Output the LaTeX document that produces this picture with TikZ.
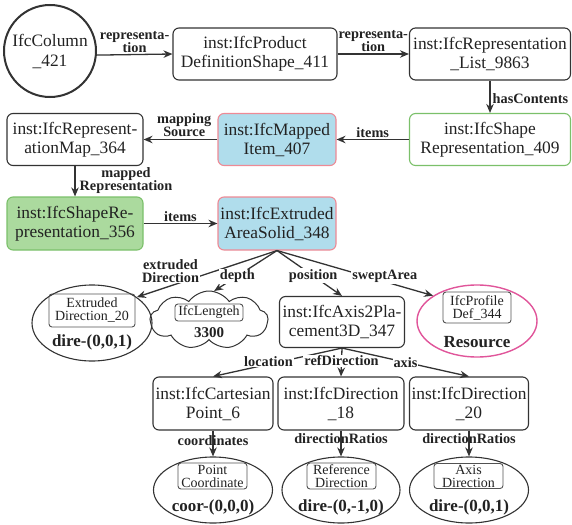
\documentclass[tikz,border=0pt]{standalone}
\usepackage{fontspec}
\setmainfont{Liberation Serif}
\usetikzlibrary{arrows.meta,shapes.geometric,shapes.symbols}
\definecolor{linec}{HTML}{333333}
\definecolor{textc}{HTML}{222222}
\definecolor{bluefill}{HTML}{B0DDEC}
\definecolor{pinkline}{HTML}{EE8A95}
\definecolor{greenfill}{HTML}{ABDA9E}
\definecolor{greenline}{HTML}{7BC06A}
\definecolor{magline}{HTML}{E0559A}

\begin{document}
\begin{tikzpicture}[x=1pt,y=-1pt,
  sz/.style 2 args={minimum width=#1,minimum height=#2},
  box/.style={rectangle,rounded corners=6pt,draw=linec,line width=1.1pt,
    align=center,inner sep=0pt,text=textc,font=\fontsize{17.4}{19}\selectfont},
  bluebox/.style={box,fill=bluefill,draw=pinkline},
  greenbox/.style={box,draw=greenline},
  greenfilled/.style={box,fill=greenfill,draw=greenline},
  valshape/.style={ellipse,draw=linec,line width=1.1pt,inner sep=0pt},
  tag/.style={rectangle,rounded corners=3pt,draw=linec!85,line width=0.9pt,
    align=center,inner sep=0pt,text=textc,font=\fontsize{14}{13}\selectfont},
  val/.style={inner sep=0pt,text=textc,font=\fontsize{17}{19}\selectfont\bfseries},
  arr/.style={draw=linec,line width=1.3pt,-{Stealth[length=9pt,width=7.5pt]}},
  elab/.style={align=center,inner sep=1pt,text=textc,
    font=\fontsize{14.3}{13}\selectfont\bfseries},
  wlab/.style={elab,fill=white}
]
\useasboundingbox (0,0) rectangle (572,524);

% ---- nodes ----
\node[circle,draw=linec,line width=2pt,minimum size=92pt,inner sep=0pt,
  align=center,text=textc,font=\fontsize{17.4}{20}\selectfont] (col) at (50,51) {IfcColumn\\\_421};
\node[box,sz={164pt}{52pt}] (pds) at (255,54) {inst:IfcProduct\\DefinitionShape\_411};
\node[box,sz={161pt}{52pt}] (rl) at (490,54) {inst:IfcRepresentation\\\_List\_9863};
\node[greenbox,sz={161pt}{52pt}] (sr409) at (490,139.5) {inst:IfcShape\\Representation\_409};
\node[bluebox,sz={118pt}{52pt}] (mi) at (277,139.5) {inst:IfcMapped\\Item\_407};
\node[box,sz={136pt}{52pt}] (rm) at (75,139.5) {inst:IfcRepresent-\\ationMap\_364};
\node[greenfilled,sz={136pt}{53pt}] (sr356) at (75,223.5) {inst:IfcShapeRe-\\presentation\_356};
\node[bluebox,sz={118pt}{53pt}] (eas) at (277,223.5) {inst:IfcExtruded\\AreaSolid\_348};

% extruded direction value
\node[valshape,sz={120pt}{76pt}] (ext) at (92,323) {};
\node[tag,sz={86pt}{33pt}] (extT) at (92,310.5) {Extruded\\Direction\_20};
\node[val] (extV) at (92,342) {dire-(0,0,1)};

% depth value
\node[cloud,cloud puffs=9,cloud puff arc=110,aspect=2.1,draw=linec,line width=1pt,
  sz={118pt}{58pt},inner sep=0pt] (cld) at (209,320) {};
\node[tag,sz={68pt}{17pt}] (cldT) at (209,312.5) {IfcLengteh};
\node[val,font=\fontsize{15}{17}\selectfont\bfseries] (cldV) at (209,333) {3300};

\node[box,sz={125pt}{51pt}] (ax) at (342,322) {inst:IfcAxis2Pla-\\cement3D\_347};

% swept area profile
\node[ellipse,draw=magline,line width=1.4pt,sz={120pt}{72pt},inner sep=0pt] (res) at (477,321) {};
\node[tag,sz={68pt}{31pt}] (resT) at (477,307.5) {IfcProfile\\Def\_344};
\node[val] (resV) at (477,342) {Resource};

\node[box,sz={120pt}{53pt}] (cp) at (213,403.5) {inst:IfcCartesian\\Point\_6};
\node[box,sz={126pt}{53pt}] (d18) at (341,403.5) {inst:IfcDirection\\\_18};
\node[box,sz={119pt}{53pt}] (d20) at (469,403.5) {inst:IfcDirection\\\_20};

\node[valshape,sz={119pt}{66pt}] (pc) at (213,490) {};
\node[tag,sz={69pt}{26pt}] (pcT) at (212.5,476) {Point\\Coordinate};
\node[val] (pcV) at (213,507) {coor-(0,0,0)};

\node[valshape,sz={118pt}{66pt}] (rd) at (341,490) {};
\node[tag,sz={69pt}{26pt}] (rdT) at (341.5,476) {Reference\\Direction};
\node[val] (rdV) at (341,507) {dire-(0,-1,0)};

\node[valshape,sz={119pt}{66pt}] (ad) at (469,490) {};
\node[tag,sz={69pt}{25pt}] (adT) at (468.5,476) {Axis\\Direction};
\node[val] (adV) at (469,507) {dire-(0,0,1)};

% ---- connectors ----
\draw[arr] (col.-5) -- (pds.west) node[elab,midway,yshift=12.5pt] {representa-\\tion};
\draw[arr] (pds) -- (rl) node[elab,midway,yshift=12.5pt] {representa-\\tion};
\draw[arr] (rl) -- (sr409) node[elab,pos=0.55,anchor=west,xshift=1pt] {hasContents};
\draw[arr] (sr409) -- (mi) node[elab,midway,yshift=7pt] {items};
\draw[arr] (mi) -- (rm) node[elab,pos=0.45,yshift=14.5pt] {mapping\\Source};
\draw[arr] (rm) -- (sr356) node[elab,pos=0.47,anchor=west,xshift=3pt] {mapped\\Representation};
\draw[arr] (sr356) -- (eas) node[elab,midway,yshift=6.5pt] {items};

\draw[arr] (eas.south) -- (ext.30) node[wlab,pos=0.76,yshift=15pt] {extruded\\Direction};
\draw[arr] (eas.south) -- (cld.80) node[wlab,pos=0.63] {depth};
\draw[arr] (eas.south) -- (ax.north) node[wlab,pos=0.556] {position};
\draw[arr] (eas.south) -- (res.150) node[wlab,pos=0.69,yshift=5pt] {sweptArea};

\draw[arr] (ax.south) -- (cp.north) node[wlab,pos=0.57,yshift=3pt] {location};
\draw[arr] (ax.south) -- (d18.north) node[wlab,pos=0.45] {refDirection};
\draw[arr] (ax.south) -- (d20.north) node[wlab,pos=0.5] {axis};

\draw[arr] (cp) -- (pc) node[elab,pos=0.37] {coordinates};
\draw[arr] (d18) -- (rd) node[elab,pos=0.3] {directionRatios};
\draw[arr] (d20) -- (ad) node[elab,pos=0.3] {directionRatios};
\end{tikzpicture}
\end{document}
